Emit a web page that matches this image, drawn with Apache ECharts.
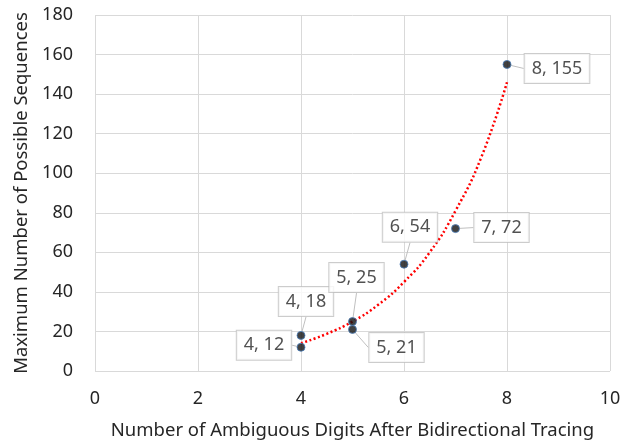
<!DOCTYPE html>
<html>
<head>
<meta charset="utf-8">
<script src="https://cdn.jsdelivr.net/npm/echarts@6/dist/echarts.min.js"></script>
<style>
  html, body { margin: 0; padding: 0; background: #fff; }
  #chart { width: 629px; height: 445px; }
</style>
</head>
<body>
<div id="chart"></div>
<script>
// measured points
var digits = [4, 4, 5, 5, 6, 7, 8];
var sequences = [12, 18, 21, 25, 54, 72, 155];
// exponential trendline
var trendX = [4, 4.5, 5, 5.5, 6, 6.5, 7, 7.5, 8];
var trendY = [14, 18.8, 25, 33.5, 45, 60, 81, 108, 146];
var xTicks = [0, 2, 4, 6, 8, 10];
var yTicks = [0, 20, 40, 60, 80, 100, 120, 140, 160, 180];

// label offsets (dx, dy) per point
var labelShift = [[-37, -2], [5, -34], [44, 18], [4, -44], [6, -37], [46, -1], [50, 4]];

var font = "'Noto Sans', 'Open Sans', sans-serif";
var ink = '#262626';
var chart = echarts.init(document.getElementById('chart'));

var pts = digits.map(function(d, i) { return [d, sequences[i]]; });
var trend = trendX.map(function(d, i) { return [d, trendY[i]]; });

chart.setOption({
  animation: false,
  grid: { left: 95, right: 19, top: 15, bottom: 73 },
  xAxis: {
    type: 'value', min: xTicks[0], max: xTicks[xTicks.length - 1], interval: 2,
    name: 'Number of Ambiguous Digits After Bidirectional Tracing',
    nameLocation: 'middle', nameGap: 50,
    nameTextStyle: { fontFamily: font, fontSize: 18.5, color: ink },
    axisLine: { show: false }, axisTick: { show: false },
    axisLabel: { fontFamily: font, fontSize: 18, color: ink, margin: 19 },
    splitLine: { lineStyle: { color: '#d9d9d9', width: 1 } }
  },
  yAxis: {
    type: 'value', min: yTicks[0], max: yTicks[yTicks.length - 1], interval: 20,
    name: 'Maximum Number of Possible Sequences',
    nameLocation: 'middle', nameGap: 56,
    nameTextStyle: { fontFamily: font, fontSize: 18.5, color: ink },
    axisLine: { show: false }, axisTick: { show: false },
    axisLabel: { fontFamily: font, fontSize: 18, color: ink, margin: 22 },
    splitLine: { lineStyle: { color: '#d9d9d9', width: 1 } }
  },
  series: [
    {
      type: 'line', data: trend, smooth: true, symbol: 'none', z: 2,
      lineStyle: { color: '#ff0000', width: 2.5, type: [2, 2.5] }
    },
    {
      type: 'scatter', data: pts, symbolSize: 8, z: 3,
      itemStyle: { color: '#111', borderColor: '#4a7ebb', borderWidth: 1 },
      label: {
        show: true, position: 'inside',
        formatter: function(p) { return p.value[0] + ', ' + p.value[1]; },
        fontFamily: font, fontSize: 18, color: ink,
        backgroundColor: '#fff', borderColor: '#bfbfbf', borderWidth: 1,
        padding: [6, 7, 5, 7]
      },
      labelLine: { show: true, lineStyle: { color: '#bfbfbf', width: 1 } },
      labelLayout: function(p) {
        var s = labelShift[p.dataIndex];
        return { dx: s[0], dy: s[1] };
      }
    }
  ]
});
</script>
</body>
</html>
